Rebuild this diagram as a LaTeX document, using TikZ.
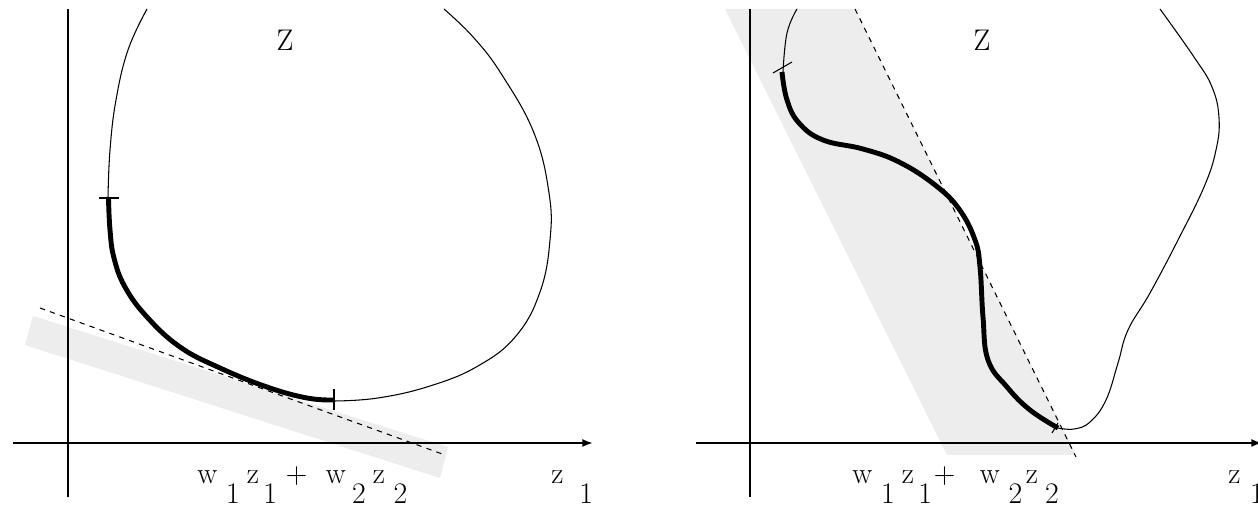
\documentclass[tikz,border=0pt]{standalone}
\usetikzlibrary{arrows.meta}
\begin{document}
\begin{tikzpicture}[x=0.02cm,y=-0.02cm,
  axis/.style={line width=1.1pt},
  thin curve/.style={line width=0.6pt},
  thick curve/.style={line width=2.8pt},
  tangent/.style={line width=0.6pt,dash pattern=on 3pt off 3pt},
  band/.style={fill=black!7,draw=none},
  lbl/.style={inner sep=0pt,font=\fontsize{17}{19}\selectfont}]
\useasboundingbox (0,0) rectangle (1258,509);
\fill[white] (0,0) rectangle (1258,509);
% ---------- left panel ----------
\fill[band] (33,316) -- (448,447) -- (440,478) -- (25,345) -- cycle;
\draw[axis] (68,9) -- (68,497);
\draw[axis,-{Latex[length=6pt,width=4.5pt]}] (13,443) -- (593,443);
\draw[tangent] (40,308) -- (445,455);
\draw[thin curve] plot[smooth,tension=0.7] coordinates
  {(147,9) (128,50) (116,100) (110,150) (108,198)};
\draw[thick curve] plot[smooth,tension=0.7] coordinates
  {(108.5,198) (110,230) (114,258) (125,287) (147,317) (180,347) (220,368) (267,387) (307,398) (334,400)};
\draw[thin curve] plot[smooth,tension=0.7] coordinates
  {(334,401) (378,398) (430,386) (478,366) (516,336) (540,292) (550,240) (549,193) (534,133) (502,75) (474,38) (444,9)};
\draw[thin curve] (99,198) -- (119,198);
\draw[thin curve] (334,389) -- (334,410);
\node[lbl] (Zl) at (285,40) {Z};
\node[lbl,anchor=base west] (labl) at (197,484)
  {w\hspace{5pt}\raisebox{-11pt}{1}\hspace{4pt}z\hspace{2.5pt}\raisebox{-11pt}{1}\hspace{5pt}+\hspace{10.5pt}w\hspace{3.6pt}\raisebox{-11pt}{2}\hspace{4pt}z\hspace{5pt}\raisebox{-11pt}{2}};
\node[lbl,anchor=base west] (z1l) at (551,484) {z\hspace{9pt}\raisebox{-11pt}{1}};
% ---------- right panel ----------
\fill[band] (725,9) -- (855,9) -- (1076,455) -- (947,455) -- cycle;
\draw[axis] (750,9) -- (750,497);
\draw[axis,-{Latex[length=6pt,width=4.5pt]}] (696,443) -- (1262,443);
\draw[tangent] (855,9) -- (1076,457);
\draw[thin curve] plot[smooth,tension=0.7] coordinates
  {(797,9) (787,33) (783,72)};
\draw[thick curve] plot[smooth,tension=0.7] coordinates
  {(782,72) (787,100) (799,123) (823,140) (863,149) (899,162) (935,185) (959,209) (975,240) (980,267) (983,317) (988,360) (1007,387) (1030,410) (1058,428)};
\draw[thin curve] plot[smooth,tension=0.7] coordinates
  {(1058,428) (1074,429) (1090,422) (1106,400) (1118,363) (1128,330) (1150,293) (1178,240) (1204,187) (1216,150) (1219,118) (1212,87) (1194,57) (1160,9)};
\draw[thin curve] (773,73) -- (792,62);
\draw[thin curve] (1052,433) -- (1058,423);
\node[lbl] (Zr) at (982,40) {Z};
\node[lbl,anchor=base west] (labr) at (852,484)
  {w\hspace{5pt}\raisebox{-11pt}{1}\hspace{4pt}z\hspace{2.5pt}\raisebox{-11pt}{1}\hspace{1pt}+\hspace{14pt}w\hspace{5pt}\raisebox{-11pt}{2}\hspace{2pt}z\hspace{4pt}\raisebox{-11pt}{2}};
\node[lbl,anchor=base west] (z1r) at (1228,484) {z\hspace{5.5pt}\raisebox{-11pt}{1}};
\end{tikzpicture}
\end{document}
